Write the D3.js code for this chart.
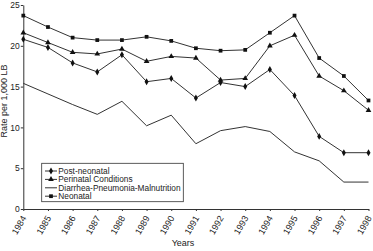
<!DOCTYPE html>
<html><head><meta charset="utf-8">
<script src="https://cdn.jsdelivr.net/npm/d3@7"></script>
<style>body{margin:0;background:#fff;}svg{display:block;font-family:"Liberation Sans",Arial,sans-serif;}</style>
</head><body>
<script>
const years = [1984,1985,1986,1987,1988,1989,1990,1991,1992,1993,1994,1995,1996,1997,1998];
const postNeonatal = [20.8,19.8,17.9,16.8,18.9,15.6,16.0,13.6,15.5,15.0,17.1,13.9,8.9,6.9,6.9];
const perinatal = [21.6,20.4,19.2,19.0,19.6,18.1,18.7,18.5,15.8,16.0,20.0,21.3,16.3,14.5,12.1];
const diarrhea = [15.4,14.1,12.8,11.6,13.2,10.2,11.5,8.0,9.6,10.1,9.5,7.0,5.9,3.3,3.3];
const neonatal = [23.7,22.3,21.0,20.7,20.7,21.1,20.6,19.7,19.4,19.5,21.6,23.7,18.5,16.3,13.3];
const yTicks = [0,5,10,15,20,25];
const seriesNames = ["Post-neonatal","Perinatal Conditions","Diarrhea-Pneumonia-Malnutrition","Neonatal"];
const seriesShapes = ["diamond","triangle","none","square"];
const seriesData = [postNeonatal, perinatal, diarrhea, neonatal];

const W = 373, H = 251;
const svg = d3.select("body").append("svg").attr("width", W).attr("height", H);
const x = d3.scaleLinear().domain([1984,1998]).range([23.3,368.5]);
const y = d3.scaleLinear().domain([0,25]).range([209,5]);
const col = "#333";

// axes
const yAxis = svg.append("g").attr("transform","translate(23.3,0)")
  .call(d3.axisLeft(y).tickValues(yTicks).tickSize(2.5).tickPadding(1).tickSizeOuter(0));
yAxis.selectAll("text").attr("font-size",8.5).attr("fill","#222");
const xAxis = svg.append("g").attr("transform","translate(0,209)")
  .call(d3.axisBottom(x).tickValues(years).tickFormat(d3.format("d")).tickSize(2).tickSizeOuter(0));
xAxis.selectAll("text").attr("font-size",9).attr("fill","#222")
  .attr("text-anchor","end").attr("x",0).attr("y",0).attr("dy",0)
  .attr("transform","translate(3,9) rotate(-60)");
svg.selectAll(".domain, .tick line").attr("stroke",col);

svg.append("text").attr("x",183).attr("y",246).attr("text-anchor","middle")
  .attr("font-size",9).attr("fill","#222").text("Years");
svg.append("text").attr("transform","translate(7,101) rotate(-90)").attr("text-anchor","middle")
  .attr("font-size",9).attr("fill","#222").text("Rate per 1,000 LB");

const sym = {
  diamond: d3.symbol().type(d3.symbolDiamond).size(14),
  triangle: d3.symbol().type(d3.symbolTriangle).size(14),
  square: d3.symbol().type(d3.symbolSquare).size(14)
};
const line = d3.line().x((d,i)=>x(years[i])).y(d=>y(d));
seriesData.forEach((data, s) => {
  svg.append("path").datum(data).attr("d", line).attr("fill","none")
    .attr("stroke",col).attr("stroke-width",1);
  if (seriesShapes[s] !== "none") {
    svg.selectAll(null).data(data).enter().append("path")
      .attr("d", sym[seriesShapes[s]])
      .attr("transform",(d,i)=>`translate(${x(years[i])},${y(d)})`)
      .attr("fill","#111");
  }
});

// legend
const lg = svg.append("g");
lg.append("rect").attr("x",41.7).attr("y",163.3).attr("width",141.6).attr("height",38.4)
  .attr("fill","#fff").attr("stroke",col).attr("stroke-width",0.8);
seriesNames.forEach((name, i) => {
  const yy = 171 + i*8.4;
  lg.append("line").attr("x1",45).attr("x2",57).attr("y1",yy).attr("y2",yy).attr("stroke",col);
  if (seriesShapes[i] !== "none")
    lg.append("path").attr("d", sym[seriesShapes[i]]).attr("transform",`translate(51,${yy})`).attr("fill","#111");
  lg.append("text").attr("x",58.3).attr("y",yy+3).attr("font-size",8.3).attr("fill","#222").text(name);
});
</script>
</body></html>
